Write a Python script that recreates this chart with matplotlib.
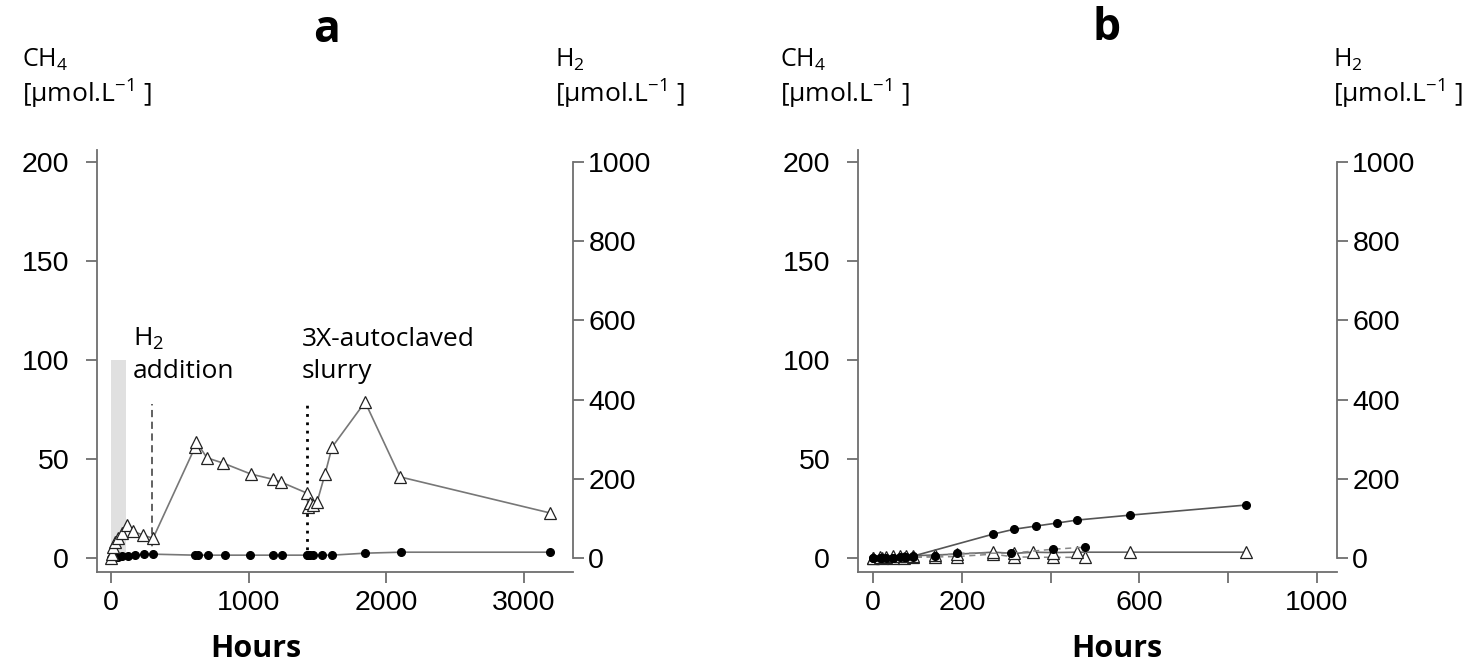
import matplotlib
matplotlib.use('Agg')
import matplotlib.pyplot as plt

# panel a: incubation with H2 addition, then autoclaved slurry
a_ch4_hours = [0, 5, 10, 20, 30, 50, 80, 120, 174, 240, 305, 610, 632, 704, 828, 1009,
               1176, 1242, 1423, 1434, 1445, 1467, 1532, 1605, 1845, 2106, 3188]
a_ch4 = [0, 0.3, 0.5, 0.6, 0.8, 0.8, 1.0, 1.0, 1.5, 2.0, 2.0, 1.5, 1.5, 1.5, 1.5, 1.5,
         1.5, 1.5, 1.5, 1.5, 1.5, 1.5, 1.5, 1.5, 2.5, 3.0, 3.0]
a_h2_hours = [0, 8, 15, 30, 51, 80, 116, 160, 232, 305, 610, 620, 697, 813, 1017, 1176,
              1234, 1423, 1431, 1445, 1467, 1496, 1554, 1605, 1845, 2099, 3188]
a_h2 = [0, 10, 28, 40, 50, 63, 83, 68, 58, 50, 280, 293, 253, 240, 212, 199,
        192, 164, 129, 140, 134, 141, 212, 280, 394, 205, 114]
a_shade_hours = [0, 110]
a_shade_top = 100
h2_addition_hour = 300
autoclave_hour = 1423
event_line_top = 78

# panel b: two incubations, CH4 (circles) and H2 (triangles)
b1_ch4_hours = [0, 15, 30, 45, 60, 75, 90, 270, 318, 367, 414, 459, 579, 840]
b1_ch4 = [0, 0, 0.3, 0.3, 0.5, 0.5, 1.0, 12.1, 14.6, 16.2, 17.7, 19.2, 21.7, 26.8]
b1_h2_hours = [0, 15, 30, 45, 60, 75, 90, 140, 189, 270, 318, 360, 405, 459, 579, 840]
b1_h2 = [0, 2, 3, 5, 5, 6, 6, 8, 10, 15, 12, 15, 14, 15, 15, 15]
b2_ch4_hours = [0, 20, 45, 70, 90, 140, 189, 311, 405, 477]
b2_ch4 = [0, 0.2, 0.3, 0.4, 0.5, 1.0, 2.5, 2.5, 4.5, 5.5]
b2_h2_hours = [0, 20, 45, 70, 90, 140, 189, 270, 318, 405, 477]
b2_h2 = [0, 0, 1, 1, 2, 3, 4, 10, 3, 2, 2]

ch4_ticks = [0, 50, 100, 150, 200]
h2_ticks = [0, 200, 400, 600, 800, 1000]
a_xticks = [0, 1000, 2000, 3000]
b_xticks = [0, 200, 400, 600, 800, 1000]
b_xticklabels = ['0', '200', '', '600', '', '1000']

W, H = 1471, 667
fig = plt.figure(figsize=(W / 100, H / 100), dpi=100)
plt.rcParams['font.family'] = ['Liberation Sans', 'DejaVu Sans']
plt.rcParams['mathtext.default'] = 'regular'
label_font = ['Open Sans', 'DejaVu Sans']
axis_grey = '#6e6e6e'


def setup(ax, xlim, xticks, xticklabels):
    ax.set_xlim(*xlim)
    ax.set_ylim(-7, 206)
    ax.set_yticks(ch4_ticks)
    ax.set_xticks(xticks)
    ax.set_xticklabels(xticklabels)
    for s in ['top', 'right']:
        ax.spines[s].set_visible(False)
    for s in ['left', 'bottom']:
        ax.spines[s].set_color(axis_grey)
        ax.spines[s].set_linewidth(1.3)
    ax.tick_params(direction='out', length=8, width=1.3, color=axis_grey,
                   labelsize=20.5)
    ax.tick_params(axis='y', pad=12)
    ax.tick_params(axis='x', pad=5)
    axr = ax.twinx()
    axr.set_ylim(-35, 1030)
    axr.set_yticks(h2_ticks)
    for s in ['top', 'left', 'bottom']:
        axr.spines[s].set_visible(False)
    axr.spines['right'].set_bounds(0, 1000)
    axr.spines['right'].set_color(axis_grey)
    axr.spines['right'].set_linewidth(1.3)
    axr.tick_params(direction='out', length=8, width=1.3, color=axis_grey,
                    labelsize=20.5, pad=3)
    return axr


tri = dict(marker='^', markersize=9, markerfacecolor='white', markeredgecolor='#222',
           markeredgewidth=0.9)
dot = dict(marker='o', markersize=5.5, markerfacecolor='black', markeredgecolor='black')

# ---- panel a
ax_a = fig.add_axes([97 / W, 95 / H, 476 / W, 422 / H])
axr_a = setup(ax_a, (-102, 3355), a_xticks, [str(v) for v in a_xticks])
ax_a.fill_between(a_shade_hours, 0, a_shade_top, color='#e0e0e0', lw=0, zorder=0)
ax_a.plot([h2_addition_hour] * 2, [0, event_line_top], ls=(0, (4, 2.5)),
          color='#555', lw=1.3)
ax_a.plot([autoclave_hour] * 2, [0, event_line_top], ls=(0, (1, 2)),
          color='black', lw=2)
ax_a.plot(a_ch4_hours, a_ch4, color='#777', lw=1.2, **dot)
axr_a.plot(a_h2_hours, a_h2, color='#777', lw=1.2, **tri)
ax_a.text(160, 107, 'H$_2$', fontsize=19, family=label_font)
ax_a.text(160, 91, 'addition', fontsize=19, family=label_font)
ax_a.text(1387, 107, '3X-autoclaved', fontsize=19, family=label_font)
ax_a.text(1387, 91, 'slurry', fontsize=19, family=label_font)

# ---- panel b
ax_b = fig.add_axes([858 / W, 95 / H, 479 / W, 422 / H])
axr_b = setup(ax_b, (-34, 1045), b_xticks, b_xticklabels)
ax_b.plot(b2_ch4_hours, b2_ch4, color='#888', lw=1.1, ls=(0, (4, 3)), **dot)
axr_b.plot(b2_h2_hours, b2_h2, color='#888', lw=1.1, ls=(0, (4, 3)), **tri)
axr_b.plot(b1_h2_hours, b1_h2, color='#666', lw=1.2, **tri)
ax_b.plot(b1_ch4_hours, b1_ch4, color='#555', lw=1.2, **dot)
ax_b.set_zorder(axr_b.get_zorder() + 1)
ax_b.patch.set_visible(False)

# ---- headers and axis titles
def ftext(x, y, s, **kw):
    fig.text(x / W, 1 - y / H, s, family=label_font, **kw)


for x0, x1 in [(22, 555), (780, 1333)]:
    ftext(x0, 67, 'CH$_4$', fontsize=18, va='baseline')
    ftext(x0, 103, '[µmol.L$^{-1}$ ]', fontsize=19, va='baseline')
    ftext(x1, 67, 'H$_2$', fontsize=18, va='baseline')
    ftext(x1, 103, '[µmol.L$^{-1}$ ]', fontsize=19, va='baseline')

ftext(327, 30, 'a', fontsize=32, weight='bold', ha='center', va='center')
ftext(1107, 28, 'b', fontsize=32, weight='bold', ha='center', va='center')
ftext(256, 657, 'Hours', fontsize=22, weight='bold', ha='center', va='baseline')
ftext(1117, 657, 'Hours', fontsize=22, weight='bold', ha='center', va='baseline')

fig.savefig('out.png', dpi=100)
